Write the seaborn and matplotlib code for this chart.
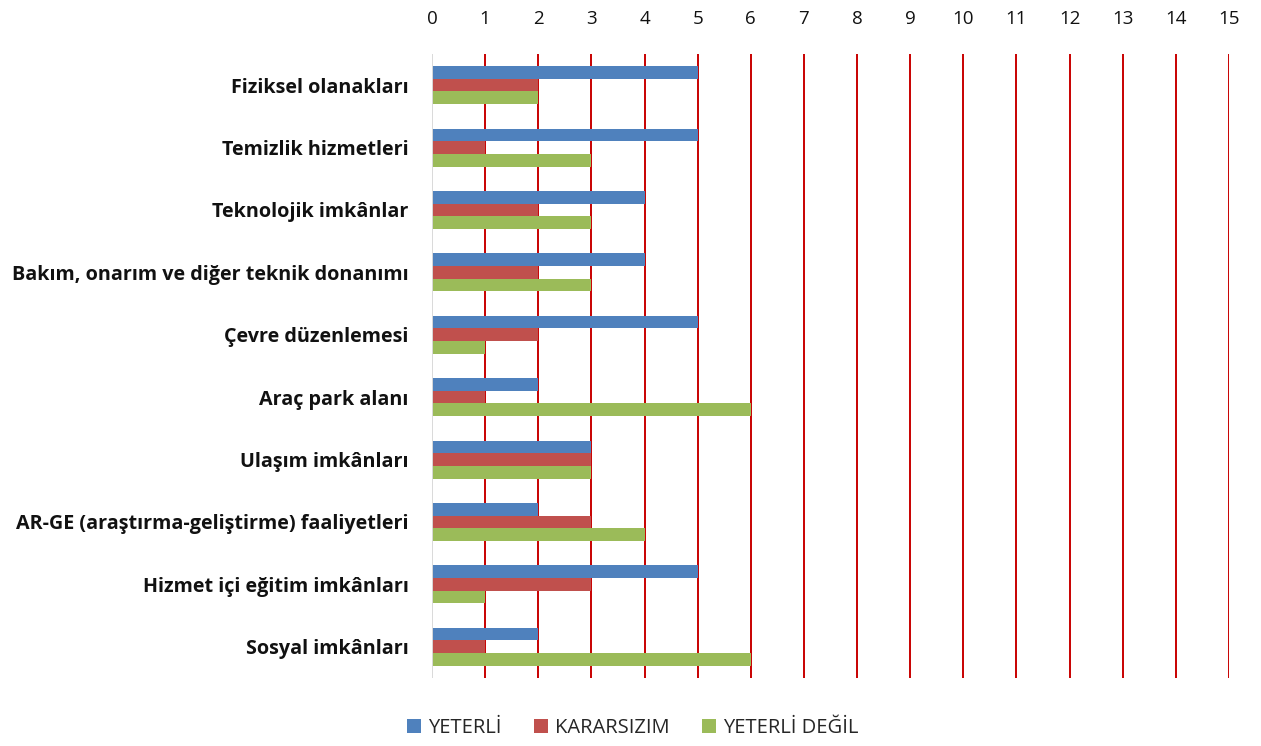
import pandas as pd
import matplotlib
matplotlib.use("Agg")
import matplotlib.pyplot as plt
import seaborn as sns
from matplotlib.patches import Patch

categories = [
    "Fiziksel olanakları",
    "Temizlik hizmetleri",
    "Teknolojik imkânlar",
    "Bakım, onarım ve diğer teknik donanımı",
    "Çevre düzenlemesi",
    "Araç park alanı",
    "Ulaşım imkânları",
    "AR-GE (araştırma-geliştirme) faaliyetleri",
    "Hizmet içi eğitim imkânları",
    "Sosyal imkânları",
]
series_names = ["YETERLİ", "KARARSIZIM", "YETERLİ DEĞİL"]
yeterli = [5, 5, 4, 4, 5, 2, 3, 2, 5, 2]
kararsizim = [2, 1, 2, 2, 2, 1, 3, 3, 3, 1]
yeterli_degil = [2, 3, 3, 3, 1, 6, 3, 4, 1, 6]
colors = ["#4F81BD", "#C0504D", "#9BBB59"]
x_ticks = list(range(0, 16))

# long table for seaborn
rows = []
for name, vals in zip(series_names, [yeterli, kararsizim, yeterli_degil]):
    for cat, v in zip(categories, vals):
        rows.append({"kategori": cat, "seri": name, "deger": v})
df = pd.DataFrame(rows)

sns.set_style("white")
plt.rcParams["font.family"] = ["Open Sans", "DejaVu Sans"]

fig = plt.figure(figsize=(12.61, 7.46), dpi=100)
ax = fig.add_axes([0.3426, 0.0912, 0.632, 0.8365])

sns.barplot(data=df, y="kategori", x="deger", hue="seri", order=categories,
            hue_order=series_names, palette=colors, orient="h", width=0.61,
            saturation=1, linewidth=0, ax=ax, legend=False)

ax.set_xlim(0, 15)
ax.set_ylim(len(categories) - 0.5, -0.5)
ax.set_xticks(x_ticks)
ax.xaxis.tick_top()
ax.tick_params(axis="x", length=0, pad=19, labelsize=13.5, labelcolor="#111111")
ax.tick_params(axis="y", length=0, pad=17)
for lbl in ax.get_yticklabels():
    lbl.set_fontweight("bold")
    lbl.set_fontsize(14.2)
    lbl.set_color("#111111")
ax.set_xlabel("")
ax.set_ylabel("")

for x in x_ticks[1:]:
    ax.axvline(x, color="#C80000", linewidth=1.4, zorder=0)
ax.axvline(0, color="#D9D9D9", linewidth=1.4, zorder=3)
for s in ax.spines.values():
    s.set_visible(False)

handles = [Patch(facecolor=c, edgecolor="none") for c in colors]
fig.legend(handles, series_names, loc="center", bbox_to_anchor=(0.502, 0.024),
           ncol=3, frameon=False, fontsize=14.5, handlelength=0.7,
           handleheight=0.7, handletextpad=0.35, columnspacing=1.6)

fig.savefig("out.png", dpi=100)
